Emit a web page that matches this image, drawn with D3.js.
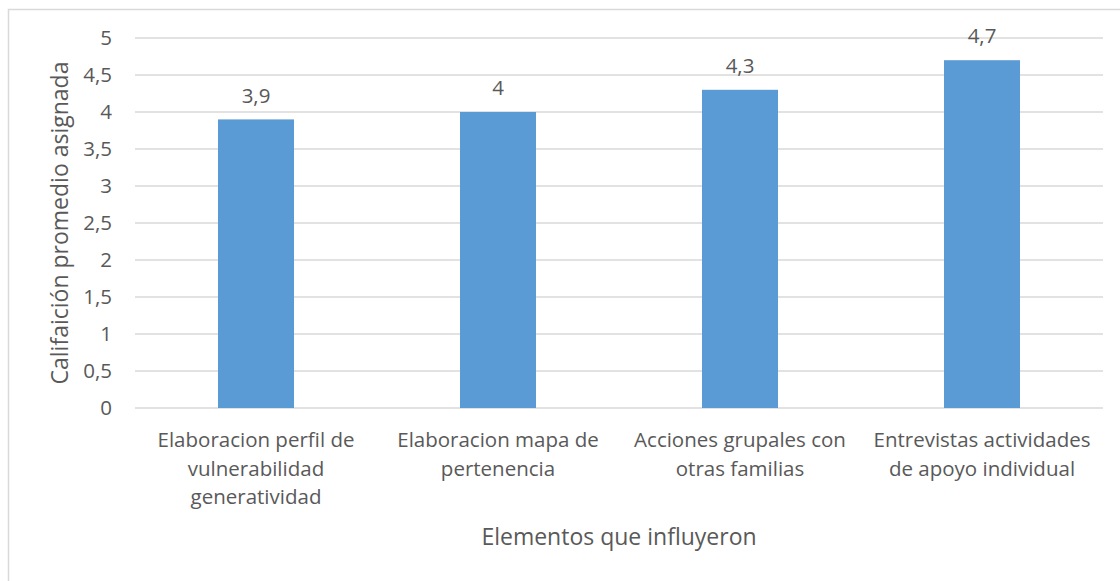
<!DOCTYPE html>
<html>
<head>
<meta charset="utf-8">
<script src="https://cdn.jsdelivr.net/npm/d3@7"></script>
<style>
  body { margin: 0; background: #fff; }
  text { font-family: "Open Sans", "Noto Sans", sans-serif; fill: #595959; }
</style>
</head>
<body>
<svg id="chart" width="1120" height="581"></svg>
<script>
// categories and values
var categories = [
	["Elaboracion perfil de", "vulnerabilidad", "generatividad"],
	["Elaboracion mapa de", "pertenencia"],
	["Acciones grupales con", "otras familias"],
	["Entrevistas actividades", "de apoyo individual"]
];
var values = [3.9, 4, 4.3, 4.7];
var yTicks = [0, 0.5, 1, 1.5, 2, 2.5, 3, 3.5, 4, 4.5, 5];

var yTitle = "Califaición promedio asignada";
var xTitle = "Elementos que influyeron";

var svg = d3.select("#chart");

// outer chart frame (cut off at right and bottom like the source)
svg.append("rect")
	.attr("x", 8.5).attr("y", 9.5)
	.attr("width", 1130).attr("height", 600)
	.attr("fill", "none")
	.attr("stroke", "#d9d9d9")
	.attr("stroke-width", 1.5);

// plot area
var plotLeft = 135, plotRight = 1103, plotTop = 38, plotBottom = 408;

var x = d3.scaleBand()
	.domain(d3.range(categories.length))
	.range([plotLeft, plotRight])
	.paddingInner(0.686)
	.paddingOuter(0.343);

var y = d3.scaleLinear()
	.domain([0, 5])
	.range([plotBottom, plotTop]);

var fmt = function(v) { return String(v).replace(".", ","); };

// gridlines
svg.append("g")
	.selectAll("line")
	.data(yTicks)
	.enter()
	.append("line")
	.attr("x1", plotLeft).attr("x2", plotRight)
	.attr("y1", d => y(d)).attr("y2", d => y(d))
	.attr("stroke", "#d9d9d9")
	.attr("stroke-width", 1.3);

// y tick labels
svg.append("g")
	.selectAll("text")
	.data(yTicks)
	.enter()
	.append("text")
	.attr("x", 112)
	.attr("y", d => y(d))
	.attr("dy", "0.35em")
	.attr("text-anchor", "end")
	.style("font-size", "20.5px")
	.text(fmt);

// bars
svg.append("g")
	.selectAll("rect")
	.data(values)
	.enter()
	.append("rect")
	.attr("x", (d, i) => x(i))
	.attr("y", d => y(d))
	.attr("width", x.bandwidth())
	.attr("height", d => plotBottom - y(d))
	.attr("fill", "#5b9bd5");

// value labels
svg.append("g")
	.selectAll("text")
	.data(values)
	.enter()
	.append("text")
	.attr("x", (d, i) => x(i) + x.bandwidth() / 2)
	.attr("y", d => y(d) - 24)
	.attr("dy", "0.35em")
	.attr("text-anchor", "middle")
	.style("font-size", "20.5px")
	.text(fmt);

// category labels, one tspan per line
var catLabels = svg.append("g")
	.selectAll("text")
	.data(categories)
	.enter()
	.append("text")
	.attr("text-anchor", "middle")
	.style("font-size", "20.5px");

catLabels.selectAll("tspan")
	.data((d, i) => d.map(line => ({ line: line, i: i })))
	.enter()
	.append("tspan")
	.attr("x", d => x(d.i) + x.bandwidth() / 2)
	.attr("y", (d, j) => 440 + j * 28.5)
	.attr("dy", "0.35em")
	.text(d => d.line);

// axis titles
svg.append("text")
	.attr("transform", "translate(60," + ((plotTop + plotBottom) / 2) + ") rotate(-90)")
	.attr("dy", "0.35em")
	.attr("text-anchor", "middle")
	.style("font-size", "23px")
	.text(yTitle);

svg.append("text")
	.attr("x", (plotLeft + plotRight) / 2)
	.attr("y", 537)
	.attr("dy", "0.35em")
	.attr("text-anchor", "middle")
	.style("font-size", "23px")
	.text(xTitle);
</script>
</body>
</html>
